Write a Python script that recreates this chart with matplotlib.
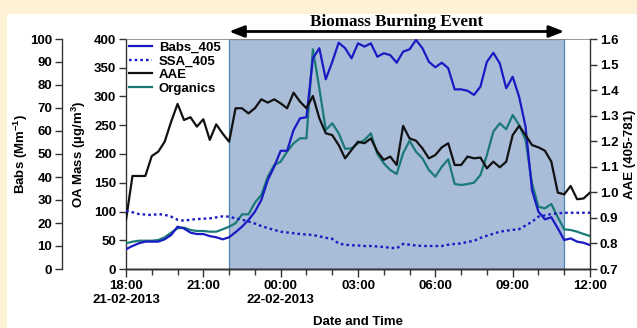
import numpy as np
import pandas as pd
import matplotlib
matplotlib.use('Agg')
import matplotlib.pyplot as plt
from matplotlib.patches import Rectangle

plt.rcParams['font.family'] = ['Liberation Sans', 'DejaVu Sans']
plt.rcParams['font.weight'] = 'bold'
plt.rcParams['mathtext.fontset'] = 'custom'
plt.rcParams['mathtext.rm'] = 'Liberation Sans:bold'
plt.rcParams['mathtext.bf'] = 'Liberation Sans:bold'

# ---------------- data ----------------
times = pd.date_range('2013-02-21 18:00', '2013-02-22 12:00', freq='15min')

babs_405 = [8.6, 10.0, 11.2, 11.9, 11.9, 11.9, 12.9, 14.8, 18.4, 17.6,
            15.8, 15.2, 15.2, 14.3, 13.8, 12.9, 13.8, 16.0, 18.4, 21.3,
            24.9, 30.0, 38.7, 44.5, 51.4, 51.4, 60.4, 65.5, 66.0, 91.6,
            96.0, 82.5, 90.0, 98.4, 96.0, 91.6, 98.1, 96.7, 98.1, 92.3,
            93.8, 93.0, 89.7, 94.5, 95.5, 99.6, 96.0, 90.1, 87.7, 89.7,
            87.3, 78.1, 78.1, 77.5, 75.7, 79.3, 90.1, 94.0, 89.4, 78.6,
            83.6, 74.9, 61.9, 34.3, 24.9, 21.6, 22.5, 17.7, 12.6, 13.3,
            11.9, 11.4, 10.4]

ssa_405 = [0.927, 0.922, 0.915, 0.913, 0.911, 0.915, 0.912, 0.905, 0.893, 0.889,
           0.893, 0.895, 0.897, 0.898, 0.902, 0.906, 0.905, 0.898, 0.893, 0.886,
           0.878, 0.868, 0.860, 0.853, 0.846, 0.843, 0.840, 0.837, 0.835, 0.833,
           0.828, 0.822, 0.818, 0.800, 0.795, 0.793, 0.792, 0.790, 0.790, 0.788,
           0.786, 0.783, 0.781, 0.798, 0.795, 0.792, 0.790, 0.790, 0.790, 0.790,
           0.795, 0.798, 0.800, 0.806, 0.810, 0.822, 0.830, 0.838, 0.846, 0.850,
           0.853, 0.856, 0.870, 0.885, 0.905, 0.910, 0.915, 0.918, 0.920, 0.920,
           0.920, 0.920, 0.920]

aae = [0.892, 1.064, 1.064, 1.064, 1.142, 1.159, 1.198, 1.276, 1.346, 1.283,
       1.294, 1.257, 1.286, 1.205, 1.266, 1.230, 1.198, 1.329, 1.329, 1.309,
       1.329, 1.364, 1.351, 1.364, 1.348, 1.329, 1.390, 1.355, 1.329, 1.377,
       1.290, 1.231, 1.224, 1.185, 1.133, 1.166, 1.198, 1.192, 1.211, 1.159,
       1.127, 1.140, 1.107, 1.260, 1.211, 1.202, 1.172, 1.133, 1.146, 1.176,
       1.192, 1.107, 1.107, 1.140, 1.133, 1.136, 1.094, 1.120, 1.098, 1.120,
       1.224, 1.260, 1.224, 1.185, 1.176, 1.163, 1.120, 0.999, 0.992, 1.025,
       0.973, 0.976, 0.999]

organics = [44.7, 47.5, 49.2, 49.2, 49.2, 50.4, 55.1, 63.1, 70.8, 72.0,
            67.8, 66.1, 66.1, 64.9, 64.9, 69.0, 73.6, 79.5, 95.1, 95.1,
            115.3, 128.7, 160.5, 180.9, 186.6, 204.0, 218.6, 227.3, 227.3, 382.0,
            314.2, 241.7, 253.4, 236.0, 209.0, 209.9, 218.6, 224.3, 236.0, 200.0,
            183.8, 172.2, 165.2, 201.2, 223.1, 204.0, 192.5, 172.2, 160.5, 177.9,
            190.8, 147.8, 146.1, 147.8, 150.1, 163.5, 198.2, 238.8, 253.4, 243.0,
            267.8, 250.4, 224.3, 149.0, 108.3, 105.5, 113.0, 89.9, 69.0, 67.8,
            64.9, 60.9, 57.4]

event_start = pd.Timestamp('2013-02-21 22:00')
event_end = pd.Timestamp('2013-02-22 11:00')

xtick_times = pd.to_datetime(['2013-02-21 18:00', '2013-02-21 21:00', '2013-02-22 00:00',
                              '2013-02-22 03:00', '2013-02-22 06:00', '2013-02-22 09:00',
                              '2013-02-22 12:00'])
xtick_labels = ['18:00\n21-02-2013', '21:00', '00:00\n22-02-2013', '03:00', '06:00', '09:00', '12:00']
minor_times = pd.date_range('2013-02-21 18:00', '2013-02-22 12:00', freq='1h')

babs_ticks = [0, 10, 20, 30, 40, 50, 60, 70, 80, 90, 100]
oa_ticks = [0, 50, 100, 150, 200, 250, 300, 350, 400]
aae_ticks = [0.7, 0.8, 0.9, 1.0, 1.1, 1.2, 1.3, 1.4, 1.5, 1.6]

# ---------------- style ----------------
W, H = 637, 328
c_blue = '#1a1ac4'
c_teal = '#1b7a77'
c_black = '#111111'
c_shade = '#a9bcd8'
c_edge = '#4d85b6'
c_spine = '#333333'
fs = 9.5

fig = plt.figure(figsize=(W / 100, H / 100), dpi=100)
fig.patch.set_facecolor('#fdf2d6')
fig.add_artist(Rectangle((7 / W, 0), 1, 1 - 14 / H, transform=fig.transFigure,
                         facecolor='white', edgecolor='none', zorder=-10))

ax = fig.add_axes([126 / W, 59 / H, 464 / W, 230 / H])
ax.set_facecolor('none')
axb = ax.twinx()
axr = ax.twinx()

# shaded event
ax.axvspan(event_start, event_end, facecolor=c_shade, edgecolor=c_edge, linewidth=0.9, zorder=0)

l_org, = ax.plot(times, organics, color=c_teal, lw=1.6, label='Organics', zorder=3)
l_babs, = axb.plot(times, babs_405, color=c_blue, lw=1.6, label='Babs_405')
l_aae, = axr.plot(times, aae, color=c_black, lw=1.6, label='AAE')
l_ssa, = axr.plot(times, ssa_405, color=c_blue, lw=1.7, linestyle=(0, (1.1, 1.3)), label='SSA_405')

ax.set_xlim(times[0], times[-1])
ax.set_ylim(0, 400)
axb.set_ylim(0, 100)
axr.set_ylim(0.7, 1.6)

ax.set_xticks(xtick_times)
ax.set_xticklabels(xtick_labels)
ax.set_xticks(minor_times, minor=True)
ax.tick_params(axis='x', which='major', length=6, width=1, color=c_spine, labelsize=fs, pad=2)
ax.tick_params(axis='x', which='minor', length=4, width=1, color=c_spine)

ax.set_yticks(oa_ticks)
ax.tick_params(axis='y', length=5, width=1, color=c_spine, labelsize=fs, pad=2)

axb.spines['right'].set_visible(False)
axb.spines['left'].set_visible(True)
axb.spines['left'].set_position(('outward', 64 * 0.72))
axb.yaxis.set_ticks_position('left')
axb.yaxis.set_label_position('left')
axb.set_yticks(babs_ticks)
axb.tick_params(axis='y', length=5, width=1, color=c_spine, labelsize=fs, pad=2)

axr.set_yticks(aae_ticks)
axr.set_yticklabels([f'{v:.1f}' for v in aae_ticks])
axr.tick_params(axis='y', length=5, width=1, color=c_spine, labelsize=fs, pad=2)

for a in (ax, axb, axr):
    for s in a.spines.values():
        s.set_color(c_spine)
        s.set_linewidth(1.0)
axb.spines['top'].set_visible(False)
axr.spines['top'].set_visible(False)
ax.spines['top'].set_linewidth(0.6)
ax.spines['top'].set_color('#888888')
axr.spines['left'].set_visible(False)
ax.spines['right'].set_visible(False)

for a in (ax, axb, axr):
    for lab in a.get_xticklabels() + a.get_yticklabels():
        lab.set_fontweight('bold')

axb.set_ylabel(r'Babs (Mm$^{\mathbf{-1}}$)', fontsize=fs, fontweight='bold')
axb.yaxis.set_label_coords((30 - 126) / 464, 0.5)
ax.set_ylabel(r'OA Mass (µg/m$^{\mathbf{3}}$)', fontsize=fs, fontweight='bold')
ax.yaxis.set_label_coords((88 - 126) / 464, 0.5)
axr.set_ylabel('AAE (405-781)', fontsize=fs, fontweight='bold')
axr.yaxis.set_label_coords((624 - 126) / 464, 0.5)
ax.set_xlabel('Date and Time', fontsize=fs, fontweight='bold')
ax.xaxis.set_label_coords(0.5, -(316 - 269) / 230)
ax.xaxis.label.set_verticalalignment('top')

# event arrow and title
axr.annotate('', xy=(event_end, 1 + 7.5 / 230), xytext=(event_start, 1 + 7.5 / 230),
             xycoords=('data', 'axes fraction'), textcoords=('data', 'axes fraction'),
             arrowprops=dict(arrowstyle='<|-|>,head_length=0.9,head_width=0.35',
                             lw=2.0, color='black', shrinkA=0, shrinkB=0),
             annotation_clip=False)
mid = event_start + (event_end - event_start) / 2
axr.text(mid, 1 + 17.5 / 230, 'Biomass Burning Event', transform=axr.get_xaxis_transform(),
         ha='center', va='center', fontsize=12.3, fontweight='bold',
         family=['Liberation Serif', 'DejaVu Serif'])

leg = axr.legend(handles=[l_babs, l_ssa, l_aae, l_org], loc='upper left',
                 bbox_to_anchor=(0.0, 1.0), frameon=False, fontsize=fs,
                 handlelength=1.8, handletextpad=0.5, labelspacing=0.1,
                 borderpad=0.2, borderaxespad=0.0)
for t in leg.get_texts():
    t.set_fontweight('bold')

fig.savefig('out.png', dpi=100)
